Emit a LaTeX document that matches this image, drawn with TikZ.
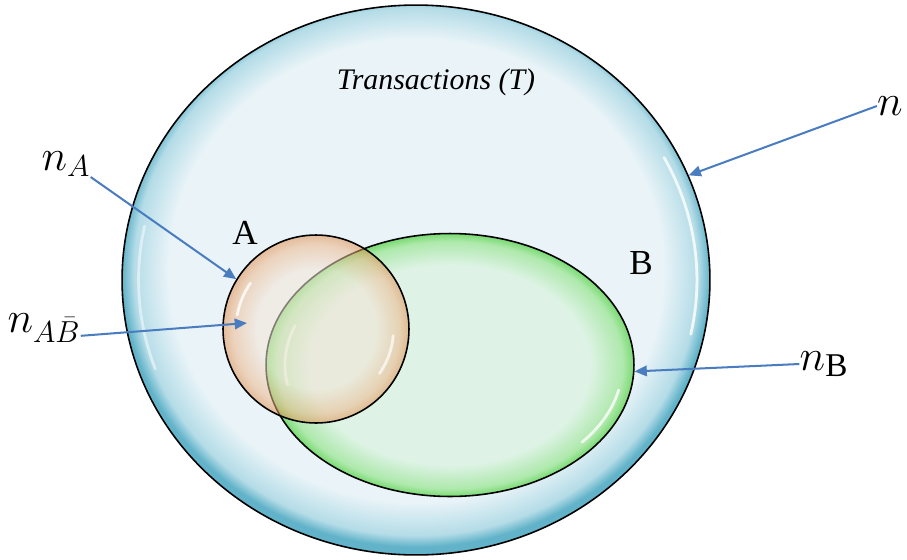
\documentclass[tikz,border=0pt]{standalone}
\usepackage{fontspec}
\setmainfont{Liberation Serif}
\usetikzlibrary{shapes.geometric,arrows.meta}

\definecolor{tlight}{HTML}{EAF4F8}
\definecolor{tmid}{HTML}{B4DCE7}
\definecolor{tdark}{HTML}{62B3C9}
\definecolor{alight}{HTML}{F4E4D6}
\definecolor{amid}{HTML}{EDB68A}
\definecolor{adark}{HTML}{E08E4E}
\definecolor{blight}{HTML}{DDF3E4}
\definecolor{bmid}{HTML}{A8E8A4}
\definecolor{bdark}{HTML}{6CD862}
\definecolor{arrowblue}{HTML}{4A7CC0}

\pgfdeclareradialshading{transshade}{\pgfpoint{0bp}{1.5bp}}{color(0bp)=(tlight); color(21bp)=(tlight); color(24bp)=(tmid); color(25bp)=(tdark); color(50bp)=(tdark)}
\pgfdeclareradialshading{ashade}{\pgfpoint{0bp}{0bp}}{color(0bp)=(alight); color(16bp)=(alight); color(22.5bp)=(amid); color(25bp)=(adark); color(50bp)=(adark)}
\pgfdeclareradialshading{bshade}{\pgfpoint{0bp}{0bp}}{color(0bp)=(blight); color(19bp)=(blight); color(23.5bp)=(bmid); color(25bp)=(bdark); color(50bp)=(bdark)}

\tikzset{
  setshape/.style={ellipse, draw=black, line width=0.9pt, inner sep=0pt, shade},
  gloss/.style={white, line width=1.6pt, line cap=round, opacity=0.8},
  pointer/.style={draw=arrowblue, line width=1.15pt, -{Triangle[length=7pt, width=6pt]}},
  setname/.style={font=\fontsize{20}{22}\selectfont},
  countlbl/.style={inner sep=0pt, font=\fontsize{27}{30}\selectfont}
}

\begin{document}
\begin{tikzpicture}[x=0.02cm, y=-0.02cm]
  \useasboundingbox (0,0) rectangle (907,559);

  % Transactions (T)
  \node[setshape, shading=transshade, minimum width=11.76cm, minimum height=11cm] (setT) at (416,280) {};
  \draw[gloss] (setT.center) ++(-12:5.62cm and 5.22cm) arc[start angle=-12, end angle=28, x radius=5.62cm, y radius=5.22cm];
  \draw[gloss, opacity=0.5] (setT.center) ++(168:5.55cm and 5.2cm) arc[start angle=168, end angle=200, x radius=5.55cm, y radius=5.2cm];
  \node[font=\fontsize{17}{20}\selectfont\itshape] (lblT) at (436,82) {Transactions (T)};

  % Set B
  \node[setshape, shading=bshade, fill opacity=0.9, minimum width=7.36cm, minimum height=5.26cm] (setB) at (450,365) {};
  \draw[gloss] (setB.center) ++(-12:3.45cm and 2.4cm) arc[start angle=-12, end angle=-40, x radius=3.45cm, y radius=2.4cm];
  \draw[gloss, opacity=0.6] (setB.center) ++(160:3.3cm and 2.3cm) arc[start angle=160, end angle=190, x radius=3.3cm, y radius=2.3cm];

  % Set A
  \node[setshape, shading=ashade, fill opacity=0.55, minimum width=3.72cm, minimum height=3.76cm] (setA) at (316,329) {};
  \draw[gloss] (setA.center) ++(145:1.6cm and 1.6cm) arc[start angle=145, end angle=170, x radius=1.6cm, y radius=1.6cm];
  \draw[gloss, opacity=0.7] (setA.center) ++(-5:1.55cm and 1.55cm) arc[start angle=-5, end angle=-35, x radius=1.55cm, y radius=1.55cm];

  % set names
  \node[setname] (lblA) at (245,233) {A};
  \node[setname] (lblB) at (641,263) {B};

  % counts
  \node[countlbl] (lbln) at (890,106) {$n$};
  \node[countlbl] (lblnA) at (66,164) {$n_A$};
  \node[countlbl] (lblnAB) at (44,328) {$n_{A\bar{B}}$};
  \node[countlbl] (lblnB) at (824,364) {$n_{\mathrm{B}}$};
  \coordinate (aonly) at (247,323);

  \draw[pointer] (lbln.west) -- (setT.21);
  \draw[pointer] (lblnA.south east) -- (setA.148);
  \draw[pointer] (lblnAB.-12) -- (aonly);
  \draw[pointer] (lblnB.west) -- (setB.-2);
\end{tikzpicture}
\end{document}
